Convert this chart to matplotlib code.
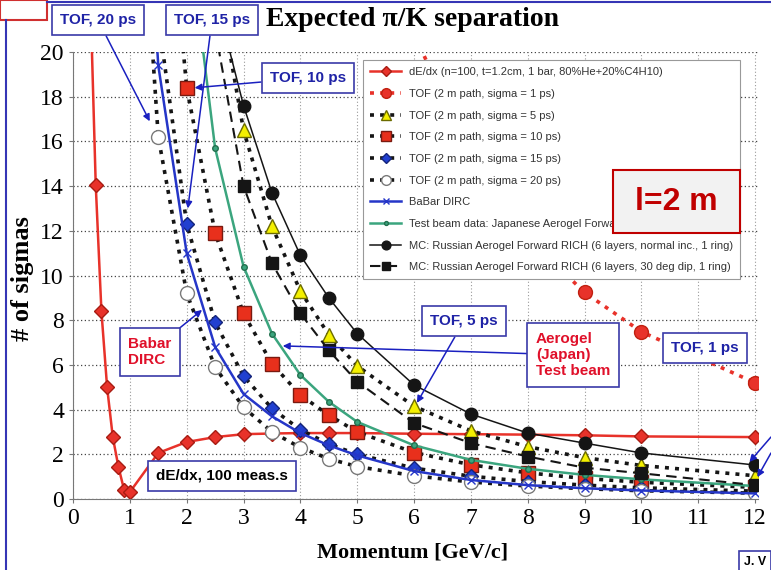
import matplotlib
matplotlib.use("Agg")
import matplotlib.pyplot as plt
from matplotlib.lines import Line2D
from matplotlib.patches import Rectangle

# momentum [GeV/c] and separation [# of sigmas]
p_dedx = [0.3, 0.4, 0.5, 0.6, 0.7, 0.8, 0.9, 1.0, 1.5, 2.0, 2.5, 3.0, 3.5, 4.0,
          4.5, 5.0, 6.0, 7.0, 8.0, 9.0, 10.0, 12.0]
s_dedx = [23.0, 14.05, 8.4, 5.0, 2.77, 1.43, 0.4, 0.31, 2.06, 2.55, 2.77, 2.9,
          2.93, 2.95, 2.95, 2.95, 2.92, 2.9, 2.88, 2.85, 2.8, 2.77]

p_tof1 = [5.0, 6.0, 7.0, 8.0, 9.0, 10.0, 12.0]
s_tof1 = [29.9, 20.8, 15.3, 11.7, 9.24, 7.48, 5.2]

p_tof5 = [2.0, 2.5, 3.0, 3.5, 4.0, 4.5, 5.0, 6.0, 7.0, 8.0, 9.0, 10.0, 12.0]
s_tof5 = [36.8, 23.7, 16.5, 12.2, 9.3, 7.35, 5.95, 4.15, 3.05, 2.34, 1.85, 1.5, 1.04]

p_tof = [1.0, 1.5, 2.0, 2.5, 3.0, 3.5, 4.0, 4.5, 5.0, 6.0, 7.0, 8.0, 9.0, 10.0, 12.0]
s_tof10 = [70.5, 32.3, 18.4, 11.9, 8.3, 6.05, 4.65, 3.75, 3.0, 2.08, 1.53, 1.17, 0.92, 0.75, 0.52]
s_tof15 = [47.0, 21.5, 12.3, 7.9, 5.5, 4.05, 3.1, 2.46, 2.0, 1.38, 1.02, 0.78, 0.62, 0.5, 0.35]
s_tof20 = [35.2, 16.2, 9.2, 5.9, 4.1, 3.0, 2.3, 1.8, 1.45, 1.04, 0.76, 0.58, 0.46, 0.37, 0.26]

p_babar = [1.0, 1.5, 2.0, 2.5, 3.0, 3.5, 4.0, 4.5, 5.0, 6.0, 7.0, 8.0, 9.0, 10.0, 12.0]
s_babar = [40.0, 19.4, 11.0, 6.8, 4.7, 3.7, 2.95, 2.4, 1.95, 1.25, 0.85, 0.62, 0.48, 0.38, 0.25]

p_beam = [2.0, 2.5, 3.0, 3.5, 4.0, 4.5, 5.0, 6.0, 7.0, 8.0, 9.0, 10.0, 12.0]
s_beam = [26.0, 15.7, 10.4, 7.4, 5.55, 4.35, 3.45, 2.4, 1.75, 1.35, 1.08, 0.88, 0.58]

p_mc = [2.5, 3.0, 3.5, 4.0, 4.5, 5.0, 6.0, 7.0, 8.0, 9.0, 10.0, 12.0]
s_mc_norm = [22.6, 17.6, 13.7, 10.9, 9.0, 7.4, 5.1, 3.8, 2.95, 2.5, 2.06, 1.52]
s_mc_dip = [21.0, 14.0, 10.55, 8.3, 6.65, 5.25, 3.4, 2.5, 1.9, 1.4, 1.15, 0.62]

labels = ["dE/dx (n=100, t=1.2cm, 1 bar, 80%He+20%C4H10)",
          "TOF (2 m path, sigma = 1 ps)",
          "TOF (2 m path, sigma = 5 ps)",
          "TOF (2 m path, sigma = 10 ps)",
          "TOF (2 m path, sigma = 15 ps)",
          "TOF (2 m path, sigma = 20 ps)",
          "BaBar DIRC",
          "Test beam data: Japanese Aerogel Forward RICH",
          "MC: Russian Aerogel Forward RICH (6 layers, normal inc., 1 ring)",
          "MC: Russian Aerogel Forward RICH (6 layers, 30 deg dip, 1 ring)"]

RED = "#e8322a"
BLUE = "#2536c8"
GREEN = "#3ba57e"
BLK = "#151515"
ABLUE = "#1f23a6"
dots = (0, (1.1, 1.7))

W, H = 771, 570
def fpx(x, y):
    return (x / W, 1 - y / H)

fig = plt.figure(figsize=(W / 100, H / 100), dpi=100)
ax = fig.add_axes([73 / W, 1 - 499 / H, (758 - 73) / W, 447 / H])

ax.plot(p_dedx, s_dedx, color=RED, lw=1.8, marker="D", ms=7.5, mfc=RED, mec="#a81c12",
        label=labels[0], zorder=2)
ax.plot(p_tof1, s_tof1, color=RED, lw=2.6, ls=dots, marker="o", ms=10, mfc=RED,
        mec="#c02010", label=labels[1], zorder=2.1)
ax.plot(p_tof5, s_tof5, color=BLK, lw=2.6, ls=dots, marker="^", ms=10, mfc="#f4f000",
        mec="#6b6b00", label=labels[2], zorder=2.2)
ax.plot(p_tof, s_tof10, color=BLK, lw=2.6, ls=dots, marker="s", ms=9.5, mfc="#e8301c",
        mec="#7a1a10", label=labels[3], zorder=2.3)
ax.plot(p_tof, s_tof15, color=BLK, lw=2.6, ls=dots, marker="D", ms=7.5, mfc="#2140d0",
        mec="#14247a", label=labels[4], zorder=2.4)
ax.plot(p_tof, s_tof20, color=BLK, lw=2.6, ls=dots, marker="o", ms=10, mfc="white",
        mec="#7a7a7a", label=labels[5], zorder=2.5)
ax.plot(p_babar, s_babar, color=BLUE, lw=1.8, marker="x", ms=6, mew=1.0,
        label=labels[6], zorder=2.6)
ax.plot(p_beam, s_beam, color=GREEN, lw=1.8, marker="o", ms=4, mfc=GREEN, mec="#23704f",
        label=labels[7], zorder=2.7)
ax.plot(p_mc, s_mc_norm, color=BLK, lw=1.1, marker="o", ms=9, mfc=BLK, mec=BLK,
        label=labels[8], zorder=2.8)
ax.plot(p_mc, s_mc_dip, color=BLK, lw=1.5, ls=(0, (5, 3)), marker="s", ms=9, mfc=BLK,
        mec=BLK, label=labels[9], zorder=2.9)

ax.set_xlim(0, 12.05)
ax.set_ylim(0, 20)
ax.set_xticks(range(0, 13))
ax.set_yticks(range(0, 21, 2))
ax.grid(axis="y", color="#444444", ls=(0, (1, 2)), lw=0.9)
ax.grid(axis="x", color="#9a9a9a", ls=(0, (1, 2)), lw=0.8)
for s in ["top", "right"]:
    ax.spines[s].set_visible(False)
for s in ["left", "bottom"]:
    ax.spines[s].set_color("#777777")
ax.tick_params(labelsize=17, length=3, color="#777777")
for t in ax.get_xticklabels() + ax.get_yticklabels():
    t.set_family("Liberation Serif")

leg = ax.legend(loc="upper left", bbox_to_anchor=(0.4234, 0.982), borderaxespad=0,
                prop={"family": "Liberation Sans", "size": 8}, labelspacing=1.05,
                handlelength=2.8, handletextpad=0.7, borderpad=0.65, fancybox=False,
                edgecolor="#999999", framealpha=1, markerscale=0.7)
leg.get_frame().set_linewidth(0.8)
leg.set_zorder(10)
for t in leg.get_texts():
    t.set_color("#333333")

fig.text(*fpx(412, 20), "Expected \u03c0/K separation", ha="center", va="center",
         family="Liberation Serif", weight="bold", size=20)
fig.text(*fpx(22, 279), "# of sigmas", ha="center", va="center", rotation=90,
         family="Liberation Serif", weight="bold", size=19)
fig.text(*fpx(413, 553), "Momentum [GeV/c]", ha="center", va="center",
         family="Liberation Serif", weight="bold", size=16)

# l=2 m box over the legend
fig.add_artist(Rectangle(fpx(613, 233), 127 / W, 63 / H, transform=fig.transFigure,
                         fc="#f2f2f2", ec="#c00000", lw=1.5, zorder=12))
fig.text(*fpx(676, 202), "l=2 m", ha="center", va="center", family="Liberation Sans",
         weight="bold", size=23, color="#c00000", zorder=13)

box = dict(boxstyle="square,pad=0.55", fc="white", ec="#3a3aa8", lw=1.2)
arw = dict(arrowstyle="-|>", color="#1a20c0", lw=1.1, mutation_scale=10, shrinkA=0, shrinkB=0)
font = dict(family="Liberation Sans", weight="bold", size=11)

notes = [("TOF, 20 ps", (1.35, 16.9), (98, 20), ABLUE),
         ("TOF, 15 ps", (2.02, 13.0), (212, 20), ABLUE),
         ("TOF, 10 ps", (2.14, 18.4), (308, 78), ABLUE),
         ("TOF, 5 ps", (6.05, 4.3), (464, 321), ABLUE),
         ("Aerogel\n(Japan)\nTest beam", (3.69, 6.85), (573, 355), "#e0102a"),
         ("Babar\nDIRC", (2.27, 8.46), (150, 352), "#e0102a")]
for txt, xy, pos, col in notes:
    ax.annotate(txt, xy=xy, xycoords="data", xytext=fpx(*pos), textcoords="figure fraction",
                ha="center", va="center", multialignment="left", color=col, bbox=box,
                arrowprops=arw, zorder=11, **font)

fig.text(*fpx(705, 348), "TOF, 1 ps", ha="center", va="center", color=ABLUE, bbox=box,
         zorder=11, **font)
fig.text(*fpx(222, 476), "dE/dx, 100 meas.s", ha="center", va="center", color="black",
         bbox=box, zorder=11, **font)

# arrows coming from outside the picture on the right
ax.annotate("", xy=(11.9, 1.66), xytext=fpx(771, 437), textcoords="figure fraction",
            arrowprops=arw, zorder=11)
ax.annotate("", xy=(12.04, 0.98), xytext=fpx(771, 453), textcoords="figure fraction",
            arrowprops=arw, zorder=11)

# slide decorations
fig.add_artist(Line2D([6 / W, 6 / W], [0, 1 - 20 / H], color="#3535b5", lw=1.5))
fig.add_artist(Line2D([47 / W, 1], [1 - 2 / H, 1 - 2 / H], color="#3535b5", lw=1.5))
fig.add_artist(Rectangle(fpx(0, 20), 47 / W, 20 / H, transform=fig.transFigure,
                         fc="white", ec="#d03030", lw=1.5))
fig.text(*fpx(744, 562), "J. V", ha="left", va="center", family="Liberation Sans",
         weight="bold", size=9, bbox=dict(boxstyle="square,pad=0.4", fc="white",
                                         ec="#3a3aa8", lw=1.2))

fig.savefig("out.png", dpi=100)
